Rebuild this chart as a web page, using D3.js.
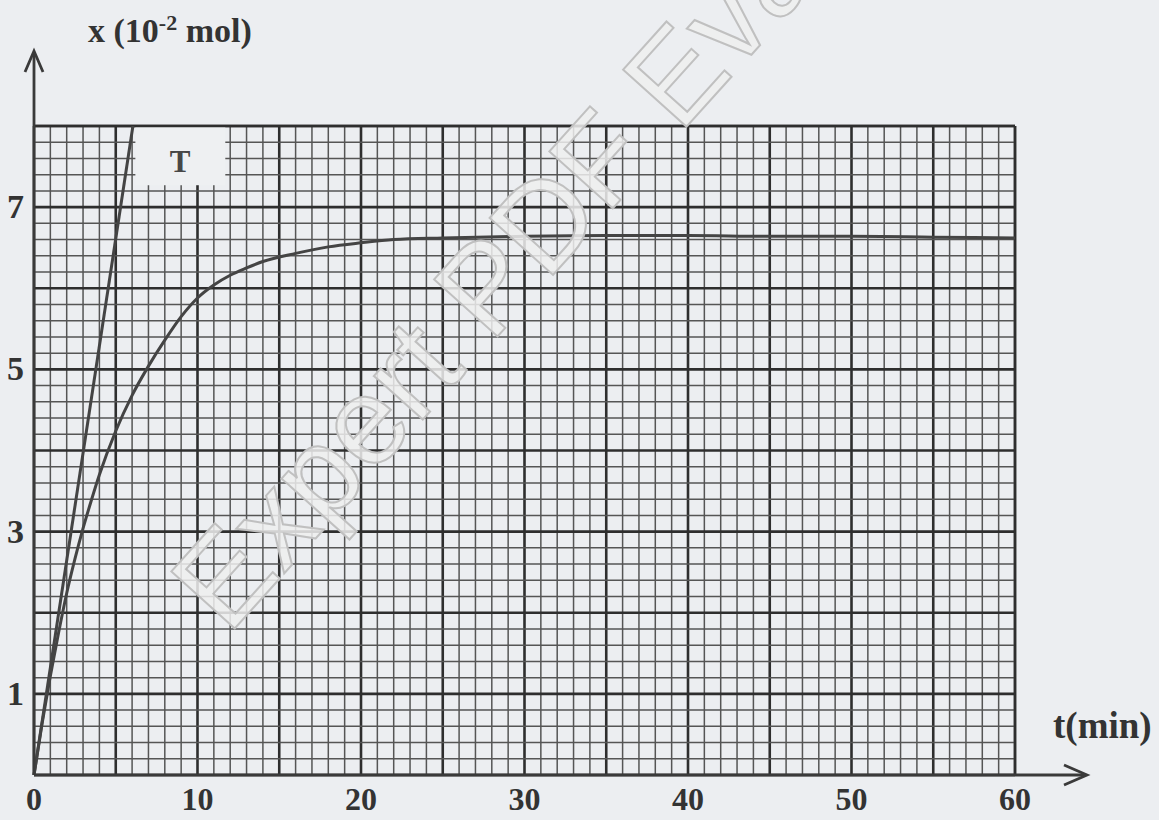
<!DOCTYPE html>
<html>
<head>
<meta charset="utf-8">
<script src="https://cdn.jsdelivr.net/npm/d3@7/dist/d3.min.js"></script>
<style>
  html, body { margin: 0; padding: 0; background: #eceef1; }
  svg { display: block; }
</style>
</head>
<body>
<svg id="chart" width="1159" height="820"></svg>
<script>
// ---- data ----
const timeValues = [0, 0.5, 1, 1.5, 2, 2.5, 3, 3.5, 4, 5, 6, 7, 8, 9, 10, 11, 12, 13, 14, 16, 18, 20, 22, 25, 30, 35, 40, 45, 50, 55, 60];
const amountValues = [0, 0.64, 1.22, 1.75, 2.24, 2.66, 3.04, 3.38, 3.7, 4.24, 4.68, 5.04, 5.36, 5.65, 5.88, 6.04, 6.16, 6.25, 6.33, 6.43, 6.51, 6.56, 6.6, 6.62, 6.64, 6.65, 6.65, 6.64, 6.64, 6.63, 6.62];
const tangentTime = [0, 6.05];
const tangentAmount = [0, 8];
const xTickValues = [0, 10, 20, 30, 40, 50, 60];
const yTickValues = [1, 3, 5, 7];
const xTitle = "t(min)";
const tangentLabel = "T";
const watermarkText = "Expert PDF Evaluation";

// ---- setup ----
const svg = d3.select("#chart");
const x = d3.scaleLinear().domain([0, 60]).range([34, 1015]);
const y = d3.scaleLinear().domain([0, 8]).range([775, 126]);

const ink = "#3a3a3a";
const serif = "'Liberation Serif', 'Times New Roman', serif";

// grid
const grid = svg.append("g");
const minorT = d3.range(0, 61, 1);
const minorA = d3.range(0, 41, 1).map(d => d / 5);
grid.selectAll("line.v").data(minorT).join("line")
  .attr("x1", d => x(d)).attr("x2", d => x(d))
  .attr("y1", y(0)).attr("y2", y(8))
  .attr("stroke", d => d % 5 === 0 ? "#2e2e2e" : "#555")
  .attr("stroke-width", d => d % 5 === 0 ? 2.6 : 1.5);
grid.selectAll("line.h").data(minorA).join("line")
  .attr("x1", x(0)).attr("x2", x(60))
  .attr("y1", d => y(d)).attr("y2", d => y(d))
  .attr("stroke", d => Math.abs(d - Math.round(d)) < 1e-6 ? "#2e2e2e" : "#555")
  .attr("stroke-width", d => Math.abs(d - Math.round(d)) < 1e-6 ? 2.6 : 1.5);

// label box for T (grid erased)
svg.append("rect")
  .attr("x", x(6.2)).attr("y", y(8))
  .attr("width", x(11.7) - x(6.2)).attr("height", y(7.27) - y(8))
  .attr("fill", "#eef0f2");
svg.append("line")
  .attr("x1", x(0)).attr("x2", x(60)).attr("y1", y(8)).attr("y2", y(8))
  .attr("stroke", "#2e2e2e").attr("stroke-width", 2.4);
svg.append("line")
  .attr("x1", x(60)).attr("x2", x(60)).attr("y1", y(8)).attr("y2", y(0))
  .attr("stroke", "#2e2e2e").attr("stroke-width", 2.4);

// curve
const pts = timeValues.map((t, i) => [t, amountValues[i]]);
svg.append("path")
  .datum(pts)
  .attr("d", d3.line().x(d => x(d[0])).y(d => y(d[1])).curve(d3.curveMonotoneX))
  .attr("fill", "none").attr("stroke", "#444").attr("stroke-width", 3);

// tangent
svg.append("path")
  .datum(tangentTime.map((t, i) => [t, tangentAmount[i]]))
  .attr("d", d3.line().x(d => x(d[0])).y(d => y(d[1])))
  .attr("fill", "none").attr("stroke", "#444").attr("stroke-width", 3);

svg.append("text")
  .attr("x", 180).attr("y", 172)
  .attr("text-anchor", "middle")
  .attr("font-family", serif).attr("font-weight", "bold").attr("font-size", 31)
  .attr("fill", "#474747").text(tangentLabel);

// axes
const axisG = svg.append("g").attr("stroke", ink).attr("stroke-width", 2.8).attr("fill", "none");
axisG.append("line").attr("x1", x(0)).attr("x2", 1086).attr("y1", y(0)).attr("y2", y(0));
axisG.append("path").attr("d", `M${1064},${y(0) - 10} L${1087},${y(0)} L${1064},${y(0) + 10}`);
axisG.append("line").attr("x1", x(0)).attr("x2", x(0)).attr("y1", y(0)).attr("y2", 52);
axisG.append("path").attr("d", `M${x(0) - 9},${72} L${x(0)},${51} L${x(0) + 9},${72}`);

// tick labels
svg.append("g").selectAll("text").data(xTickValues).join("text")
  .attr("x", d => x(d)).attr("y", 810)
  .attr("text-anchor", "middle")
  .attr("font-family", serif).attr("font-weight", "bold").attr("font-size", 32)
  .attr("fill", "#333").text(d => d);
svg.append("g").selectAll("text").data(yTickValues).join("text")
  .attr("x", 24).attr("y", d => y(d) + 11)
  .attr("text-anchor", "end")
  .attr("font-family", serif).attr("font-weight", "bold").attr("font-size", 34)
  .attr("fill", "#333").text(d => d);

// titles
const yTitle = svg.append("text")
  .attr("x", 88).attr("y", 42)
  .attr("font-family", serif).attr("font-weight", "bold").attr("font-size", 34)
  .attr("fill", "#333");
yTitle.append("tspan").text("x (10");
yTitle.append("tspan").attr("dy", -12).attr("font-size", 22).text("-2");
yTitle.append("tspan").attr("dy", 12).text(" mol)");

svg.append("text")
  .attr("x", 1053).attr("y", 738)
  .attr("font-family", serif).attr("font-weight", "bold").attr("font-size", 37)
  .attr("fill", "#333").text(xTitle);

// watermark
svg.append("text")
  .attr("transform", "translate(228,636) rotate(-48)")
  .attr("font-family", "'Liberation Sans', Arial, sans-serif")
  .attr("font-size", 124)
  .attr("fill", "rgba(238,238,238,0.85)")
  .attr("stroke", "#c0c0c0").attr("stroke-width", 2)
  .text(watermarkText);
</script>
</body>
</html>
